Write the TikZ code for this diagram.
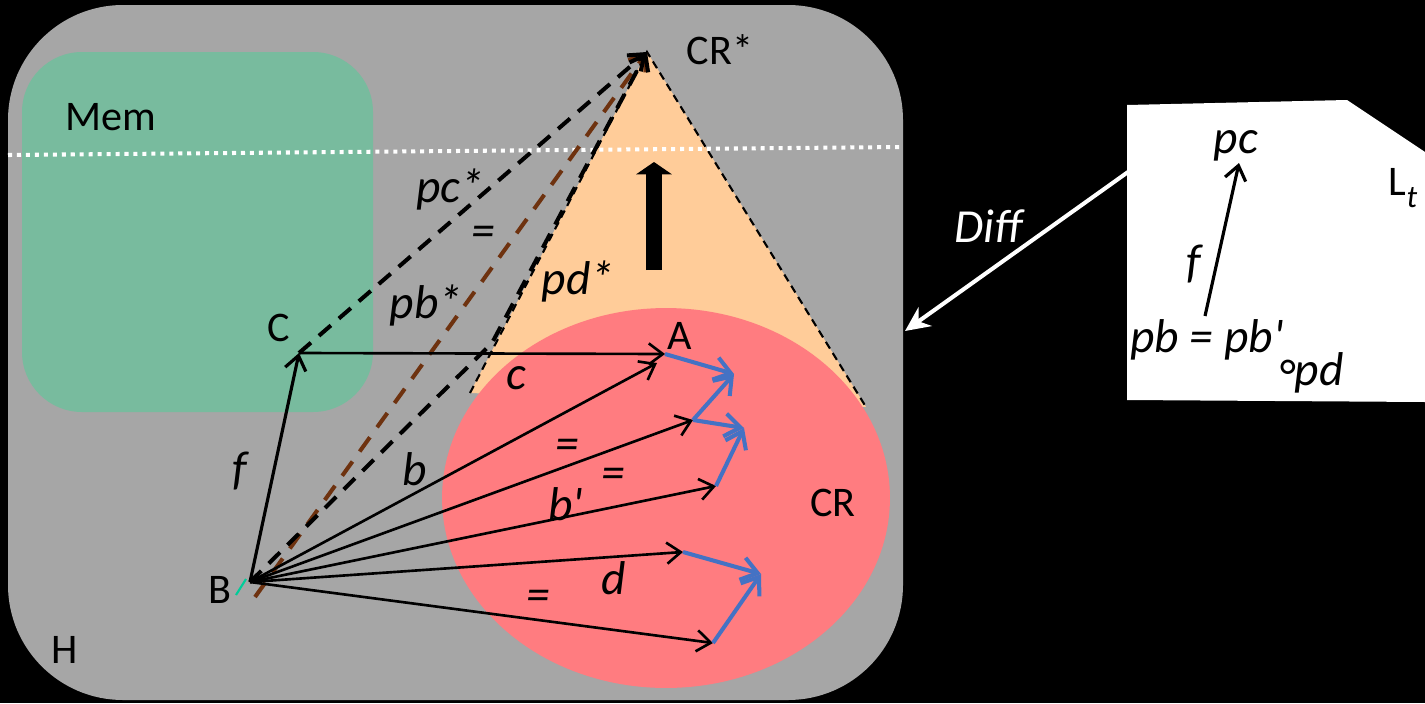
\documentclass[tikz,border=0pt]{standalone}
\usepackage{fontspec}
\setmainfont{Carlito}
\usetikzlibrary{arrows.meta,calc}
\definecolor{hgray}{RGB}{166,166,166}
\definecolor{memgreen}{RGB}{120,187,158}
\definecolor{conefill}{RGB}{255,204,153}
\definecolor{crred}{RGB}{255,124,128}
\definecolor{vecblue}{RGB}{68,114,196}
\definecolor{pbbrown}{RGB}{110,50,15}
\definecolor{markteal}{RGB}{0,204,153}

\begin{document}
\begin{tikzpicture}[x=0.02cm,y=-0.02cm,
  lbl/.style={font=\fontsize{24}{28}\selectfont,inner sep=0pt},
  ilbl/.style={lbl,font=\fontsize{27}{30}\selectfont\itshape},
  vec/.style={line width=1.5pt,-{Straight Barb[length=8pt,width=12pt]}},
  bvec/.style={line width=2.3pt,vecblue,-{Straight Barb[length=9pt,width=13pt]}},
  dvec/.style={line width=2.3pt,dash pattern=on 9pt off 6pt,-{Straight Barb[length=8pt,width=12pt]}},
  bdash/.style={dvec,pbbrown,dash pattern=on 10pt off 7pt},
  coneside/.style={line width=1.2pt,dash pattern=on 4.5pt off 3pt}]
\fill[black] (0,0) rectangle (1425,703);
\useasboundingbox (0,0) rectangle (1425,703);
\fill[hgray,rounded corners=2.3cm] (8,5) rectangle (903,700);
\fill[memgreen,rounded corners=1.2cm] (22,52) rectangle (373,412);

\coordinate (apex) at (647,52);
\coordinate (coneL) at (470,393);
\coordinate (coneR) at (866,407);
\fill[conefill] (apex) -- (coneL) -- (coneR) -- cycle;
\fill[crred] (666,498) ellipse [x radius=4.48cm,y radius=3.8cm];
\draw[coneside] (coneL) -- (apex) -- (coneR);

\coordinate (sepL) at (8,155);
\coordinate (sepR) at (903,147);
\draw[white,line width=2.3pt,dash pattern=on 2.3pt off 2.8pt] (sepL) -- (sepR);

\coordinate (B) at (250,582);
\coordinate (Bb) at (255,597);
\coordinate (C) at (299,353);
\coordinate (A) at (665,354);
\coordinate (bend) at (492,343);
\coordinate (a1) at (657,363);
\coordinate (a2) at (693,420);
\coordinate (a3) at (716,486);
\coordinate (a4) at (683,552);
\coordinate (a5) at (713,643);
\coordinate (t1) at (734,374);
\coordinate (t2) at (744,428);
\coordinate (t3) at (761,574);

\draw[bdash] (Bb) -- (apex);
\draw[dvec] (C) -- (apex);
\draw[dvec] (B) -- (bend) -- (apex);
\draw[line width=9.5pt,-{Triangle[length=7pt,width=20pt]}] (654,270) -- (654,162);

\draw[vec,line width=1.8pt] (B) -- (C);
\draw[vec] (C) -- (A);
\foreach \e in {a1,a2,a3,a4,a5}
  \draw[vec] (B) -- (\e);
\draw[bvec] (A) -- (t1);
\draw[bvec] (a2) -- (t1);
\draw[bvec] (a2) -- (t2);
\draw[bvec] (a3) -- (t2);
\draw[bvec] (a4) -- (t3);
\draw[bvec] (a5) -- (t3);
\draw[markteal,line width=1.2pt] ($(B)+(-14,13)$) -- ($(B)+(-4,-3)$);

\node[lbl] (mem) at (111,117) {Mem};
\node[lbl] (hlbl) at (65,650) {H};
\node[lbl] (crstar) at (720,50) {CR*};
\node[lbl] (crlbl) at (833,503) {CR};
\node[lbl] (clbl) at (279,328) {C};
\node[lbl] (blbl) at (220,590) {B};
\node[lbl] (albl) at (680,336) {A};
\node[ilbl] (pcs) at (450,189) {pc*};
\node[ilbl] (eq1) at (483,236) {=};
\node[ilbl] (pbs) at (426,305) {pb*};
\node[ilbl] (pds) at (578,281) {pd*};
\node[ilbl] (clo) at (516,378) {c};
\node[ilbl] (blo) at (415,469) {b};
\node[ilbl] (flo) at (240,471) {f};
\node[ilbl] (eq2) at (567,449) {=};
\node[ilbl] (eq3) at (613,478) {=};
\node[ilbl] (bpr) at (566,504) {b\textquotesingle};
\node[ilbl] (dlo) at (614,578) {d};
\node[ilbl] (eq4) at (538,600) {=};

\fill[white] (1127,105) -- (1347,100) -- (1425,152) -- (1425,402) -- (1127,400) -- cycle;
\coordinate (panelL) at (1128,172);
\coordinate (Hedge) at (905,331);
\draw[white,line width=2.3pt,-{Stealth[length=14pt,width=13pt]}] (panelL) -- (Hedge);
\node[ilbl,white] (diff) at (988,226) {Diff};
\coordinate (pbtop) at (1205,316);
\coordinate (pcbot) at (1239,163);
\draw[vec,line width=1.8pt] (pbtop) -- (pcbot);
\node[ilbl] (pc) at (1236,146) {pc};
\node[ilbl] (fpan) at (1194,264) {f};
\node[ilbl] (pbeq) at (1207,340) {pb = pb\textquotesingle};
\node[ilbl,anchor=base] (pd) at (1311,385) {\raisebox{-4pt}{°}pd};
\node[lbl] (lt) at (1403,188) {L\raisebox{-7pt}{\fontsize{18}{20}\selectfont\itshape t}};
\end{tikzpicture}
\end{document}
